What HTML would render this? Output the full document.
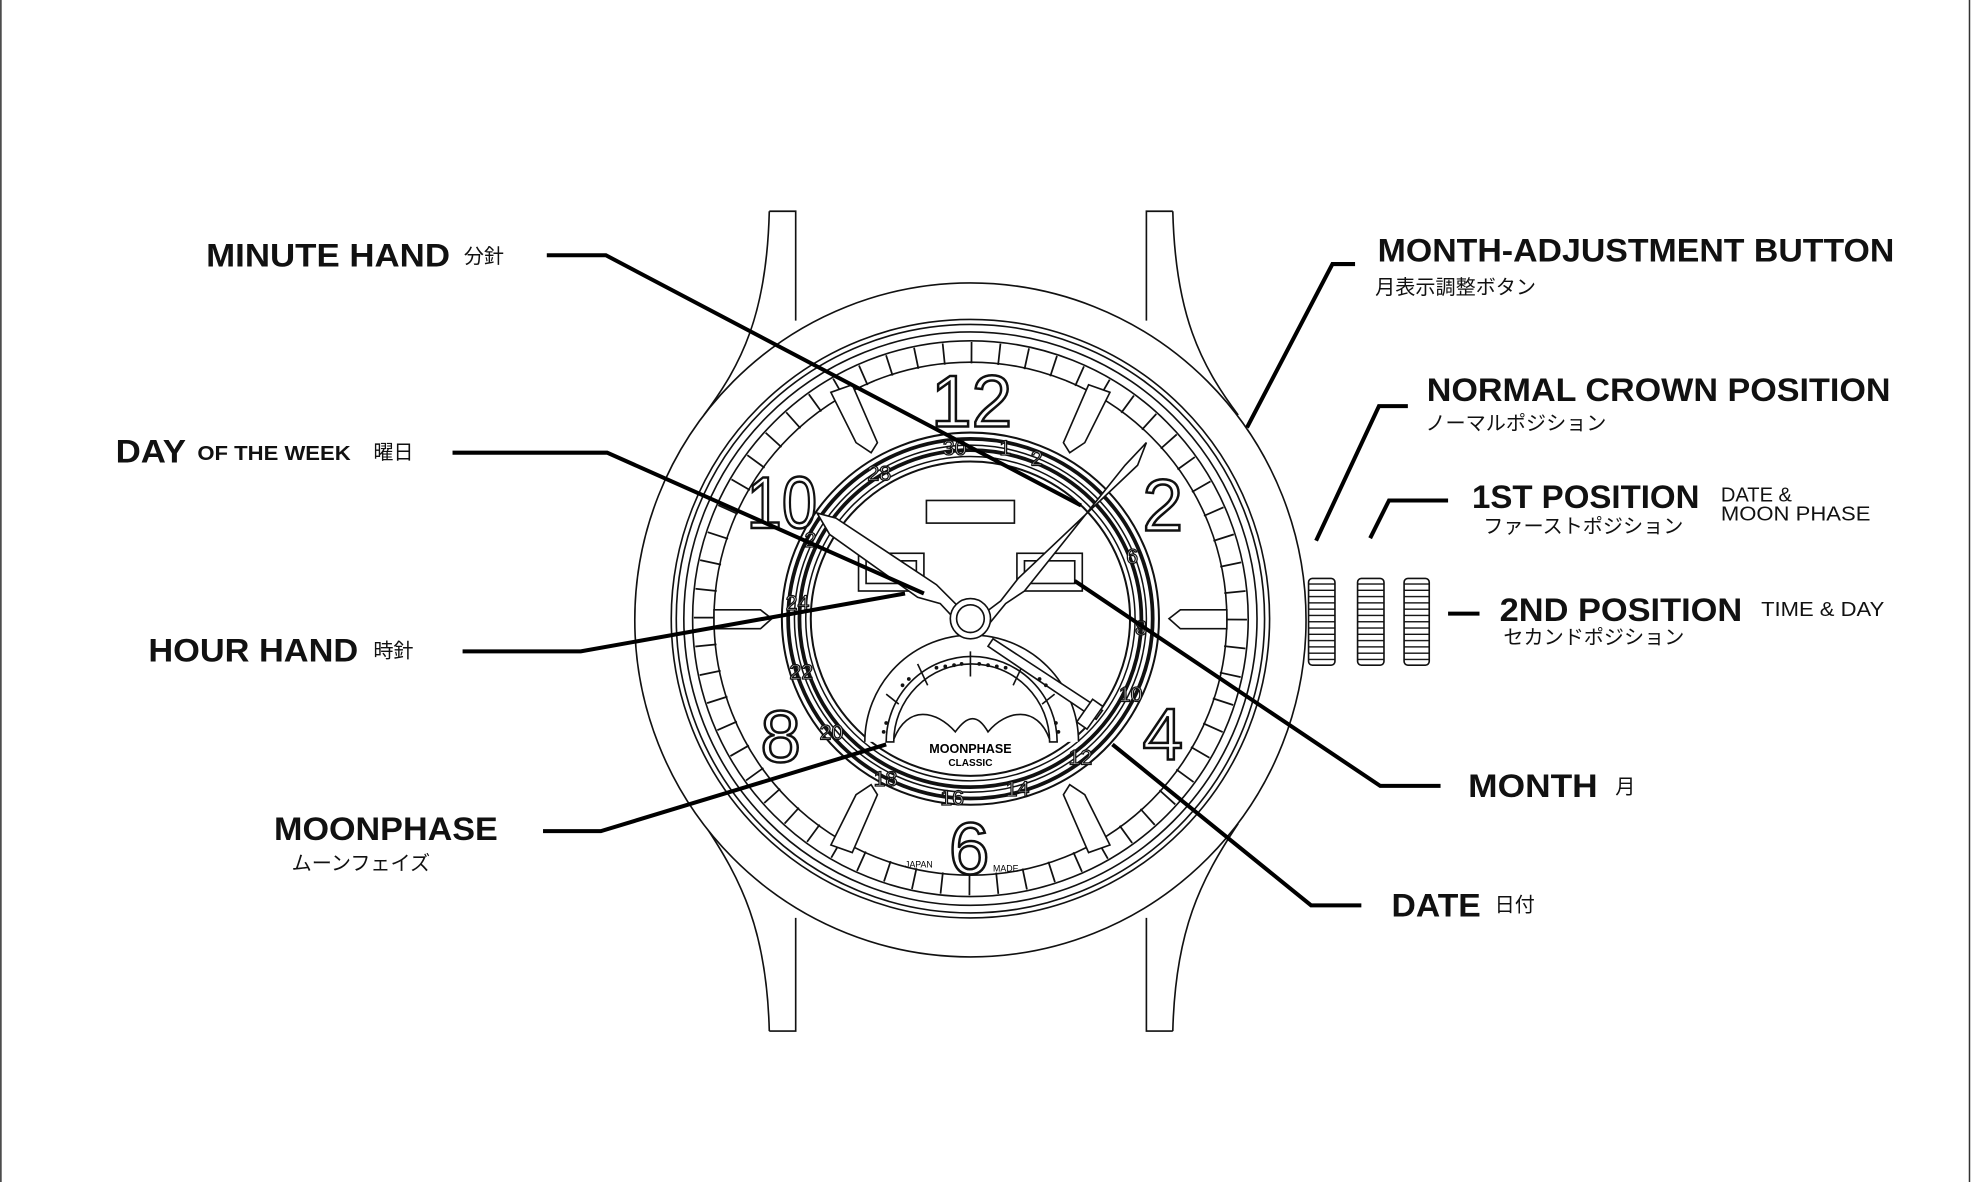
<!DOCTYPE html>
<html><head><meta charset="utf-8"><style>
html,body{margin:0;padding:0;background:#fff;}
svg{display:block;}
.h{font-family:"Liberation Sans","Noto Sans CJK JP",sans-serif;font-weight:bold;font-size:26px;fill:#111;}
.j{font-family:"Liberation Sans","Noto Sans CJK JP",sans-serif;font-size:16px;fill:#111;}
.s{font-family:"Liberation Sans",sans-serif;font-size:16px;fill:#111;}
.num{font-family:"Liberation Sans",sans-serif;font-size:58px;fill:#fff;stroke:#111;stroke-width:2;}
.dn{font-family:"Liberation Sans",sans-serif;font-size:17px;fill:#fff;stroke:#111;stroke-width:1;}
</style></head><body>
<svg width="1971" height="1182" viewBox="0 0 1568 940" preserveAspectRatio="none" xmlns="http://www.w3.org/2000/svg">
<defs>
<pattern id="rid" width="10" height="5" patternUnits="userSpaceOnUse">
<rect width="10" height="5" fill="#fff"/><line x1="0" y1="4.5" x2="10" y2="4.5" stroke="#111" stroke-width="1.2"/>
</pattern>
</defs>
<rect width="1568" height="940" fill="#fff"/>
<line x1="0.7" y1="0" x2="0.7" y2="940" stroke="#333" stroke-width="1.2"/>
<line x1="1566.8" y1="0" x2="1566.8" y2="940" stroke="#333" stroke-width="1.2"/>
<g fill="none" stroke="#111" stroke-width="1.3">
<path d="M612 168 L633 168 L633 255 M612 168 C610 250 590 290 560 330"/>
<path d="M933 168 L912 168 L912 255 M933 168 C935 250 955 290 985 330"/>
<path d="M612 820 L633 820 L633 730 M612 820 C610 740 590 700 560 655"/>
<path d="M933 820 L912 820 L912 730 M933 820 C935 740 955 700 985 655"/>
<ellipse cx="772" cy="493" rx="267" ry="268" fill="#fff"/>
<circle cx="772" cy="492" r="238"/>
<circle cx="772" cy="492" r="234"/>
<circle cx="772" cy="492" r="228"/>
<circle cx="772" cy="492" r="221"/>
<circle cx="772" cy="492" r="204"/>
<circle cx="772" cy="492" r="211.5" stroke-width="17" stroke-dasharray="1.4 20.75"/>
<rect x="1041" y="460" width="21" height="69" rx="3" fill="url(#rid)"/>
<rect x="1080" y="460" width="21" height="69" rx="3" fill="url(#rid)"/>
<rect x="1117" y="460" width="20" height="69" rx="3" fill="url(#rid)"/>
</g>
<g fill="#fff" stroke="#111" stroke-width="1.3">
<path d="M661 312 L678 306 L698 352 L693 360 L681 352 Z"/>
<path d="M883 312 L866 306 L846 352 L851 360 L863 352 Z"/>
<path d="M661 672 L678 678 L698 632 L693 624 L681 632 Z"/>
<path d="M883 672 L866 678 L846 632 L851 624 L863 632 Z"/>
<path d="M568 485 L605 485 L614 492 L605 500 L568 500 Z"/>
<path d="M976 485 L939 485 L930 492 L939 500 L976 500 Z"/>
</g>
<text class="num" x="773" y="339" text-anchor="middle">12</text>
<text class="num" x="925" y="422" text-anchor="middle">2</text>
<text class="num" x="925" y="604" text-anchor="middle">4</text>
<text class="num" x="771" y="695" text-anchor="middle">6</text>
<text class="num" x="621" y="606" text-anchor="middle">8</text>
<text class="num" x="622" y="420" text-anchor="middle" textLength="56" lengthAdjust="spacingAndGlyphs">10</text>
<g fill="none" stroke="#111">
<ellipse cx="772" cy="492" rx="150" ry="148" stroke-width="1.6"/>
<ellipse cx="772" cy="492" rx="145" ry="143" stroke-width="3"/>
<ellipse cx="772" cy="492" rx="140" ry="138" stroke-width="1.2"/>
<ellipse cx="772" cy="492" rx="136" ry="134" stroke-width="3"/>
<ellipse cx="772" cy="492" rx="131" ry="129" stroke-width="1.2"/>
<ellipse cx="772" cy="492" rx="127" ry="125" stroke-width="1.6"/>
</g>
<g class="dn">
<text x="750" y="362">30</text><text x="795" y="362">1</text><text x="820" y="370">2</text>
<text x="690" y="382">28</text><text x="896" y="448">6</text><text x="903" y="505">8</text>
<text x="890" y="558">10</text><text x="850" y="608">12</text><text x="800" y="633">14</text>
<text x="748" y="640">16</text><text x="695" y="625">18</text><text x="652" y="588">20</text>
<text x="628" y="540">22</text><text x="625" y="485">24</text><text x="640" y="435">2</text>
</g>
<g fill="#fff" stroke="#111" stroke-width="1.3">
<rect x="737" y="398" width="70" height="18"/>
<rect x="683" y="440" width="52" height="30"/><rect x="689" y="446" width="40" height="18"/>
<rect x="809" y="440" width="52" height="30"/><rect x="815" y="446" width="40" height="18"/>
<path d="M688 590 A85 85 0 0 1 858 590"/>
<path d="M705 590 A68 68 0 0 1 841 590 L835 590 A62 62 0 0 0 711 590 Z" fill="#fff"/>
<path d="M711 588 C722 560 745 565 760 582 C770 568 778 568 786 582 C800 565 825 560 835 588"/>
<line x1="772" y1="518" x2="772" y2="538"/><line x1="730" y1="528" x2="738" y2="545"/>
<line x1="814" y1="528" x2="806" y2="545"/><line x1="705" y1="552" x2="715" y2="560"/>
<line x1="839" y1="552" x2="829" y2="560"/>
<path d="M790 508 L877 565 L872 572 L786 514 Z"/>
<rect x="862" y="557" width="10" height="22" transform="rotate(35 867 568)"/>
<path d="M650 408 L665 412 L745 465 L760 480 L770 490 L763 496 L748 480 L730 475 L660 425 Z"/>
<path d="M912 352 L905 370 L810 460 L796 478 L780 490 L787 496 L800 480 L815 470 L895 370 Z"/>
<circle cx="772" cy="492" r="16"/>
<circle cx="772" cy="492" r="11"/>
</g>
<g fill="#111">
<circle cx="745" cy="531" r="1.5"/><circle cx="752" cy="530" r="1.5"/><circle cx="759" cy="529" r="1.5"/><circle cx="765" cy="528" r="1.5"/>
<circle cx="779" cy="528" r="1.5"/><circle cx="786" cy="529" r="1.5"/><circle cx="793" cy="530" r="1.5"/><circle cx="800" cy="531" r="1.5"/>
<circle cx="718" cy="545" r="1.5"/><circle cx="723" cy="540" r="1.5"/><circle cx="827" cy="540" r="1.5"/><circle cx="832" cy="545" r="1.5"/>
<circle cx="705" cy="575" r="1.5"/><circle cx="703" cy="582" r="1.5"/><circle cx="840" cy="575" r="1.5"/><circle cx="842" cy="582" r="1.5"/>
</g>
<text x="772" y="599" text-anchor="middle" style="font-family:'Liberation Sans',sans-serif;font-weight:bold;font-size:10px">MOONPHASE</text>
<text x="772" y="609" text-anchor="middle" style="font-family:'Liberation Sans',sans-serif;font-weight:bold;font-size:8px">CLASSIC</text>
<text x="720" y="690" style="font-family:'Liberation Sans',sans-serif;font-size:7px">JAPAN</text>
<text x="790" y="693" style="font-family:'Liberation Sans',sans-serif;font-size:7px">MADE</text>
<g fill="none" stroke="#000" stroke-width="3.2">
<polyline points="435,203 482,203 860,402"/>
<polyline points="360,360 483,360 735,472"/>
<polyline points="368,518 462,518 720,472"/>
<polyline points="432,661 478,661 705,592"/>
<polyline points="855,462 1098,625 1146,625"/>
<polyline points="885,592 1043,720 1083,720"/>
<polyline points="1078,210 1060,210 992,340"/>
<polyline points="1120,323 1097,323 1047,430"/>
<polyline points="1152,398 1105,398 1090,428"/>
<line x1="1152" y1="488" x2="1177" y2="488"/>
</g>
<text class="h" x="164" y="212" textLength="194" lengthAdjust="spacingAndGlyphs">MINUTE HAND</text><text class="j" x="369" y="209">分針</text>
<text class="h" x="92" y="368" textLength="56" lengthAdjust="spacingAndGlyphs">DAY</text><text class="h" x="157" y="366" style="font-size:16px" textLength="122" lengthAdjust="spacingAndGlyphs">OF THE WEEK</text><text class="j" x="297" y="365">曜日</text>
<text class="h" x="118" y="526" textLength="167" lengthAdjust="spacingAndGlyphs">HOUR HAND</text><text class="j" x="297" y="523">時針</text>
<text class="h" x="218" y="668" textLength="178" lengthAdjust="spacingAndGlyphs">MOONPHASE</text><text class="j" x="232" y="692">ムーンフェイズ</text>
<text class="h" x="1096" y="208" textLength="411" lengthAdjust="spacingAndGlyphs">MONTH-ADJUSTMENT BUTTON</text><text class="j" x="1094" y="234">月表示調整ボタン</text>
<text class="h" x="1135" y="319" textLength="369" lengthAdjust="spacingAndGlyphs">NORMAL CROWN POSITION</text><text class="j" x="1134" y="342">ノーマルポジション</text>
<text class="h" x="1171" y="404" textLength="181" lengthAdjust="spacingAndGlyphs">1ST POSITION</text><text class="j" x="1180" y="424">ファーストポジション</text>
<text class="s" x="1369" y="399">DATE &amp;</text><text class="s" x="1369" y="414" textLength="119" lengthAdjust="spacingAndGlyphs">MOON PHASE</text>
<text class="h" x="1193" y="494" textLength="193" lengthAdjust="spacingAndGlyphs">2ND POSITION</text><text class="j" x="1196" y="512">セカンドポジション</text>
<text class="s" x="1401" y="490" textLength="98" lengthAdjust="spacingAndGlyphs">TIME &amp; DAY</text>
<text class="h" x="1168" y="634" textLength="103" lengthAdjust="spacingAndGlyphs">MONTH</text><text class="j" x="1285" y="631">月</text>
<text class="h" x="1107" y="729" textLength="71" lengthAdjust="spacingAndGlyphs">DATE</text><text class="j" x="1189" y="725">日付</text>
</svg>
</body></html>
